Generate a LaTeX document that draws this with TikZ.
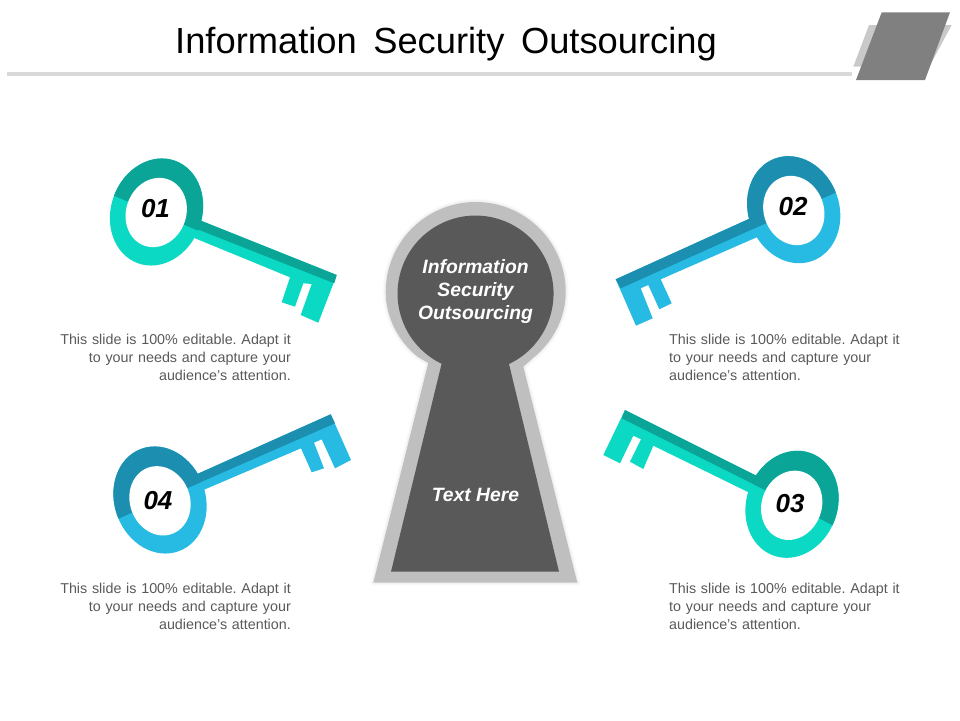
\documentclass[tikz,border=0pt]{standalone}
\usepackage{fontspec}
\setmainfont{Liberation Sans}
\definecolor{tealL}{HTML}{0BD9C4}
\definecolor{tealD}{HTML}{0AA596}
\definecolor{blueL}{HTML}{27BAE2}
\definecolor{blueD}{HTML}{1C8FB0}
\definecolor{holeD}{HTML}{595959}
\definecolor{holeL}{HTML}{BFBFBF}
\definecolor{bodyT}{HTML}{595959}
\tikzset{
  bodytext/.style={font=\fontsize{14.3}{17.8}\selectfont\frenchspacing,text=bodyT,text width=236pt,inner sep=0pt},
  numtext/.style={font=\fontsize{26}{26}\selectfont\bfseries\itshape,text=black,inner sep=0pt},
  holetext/.style={font=\fontsize{19.3}{22.6}\selectfont\bfseries\itshape,text=white,inner sep=0pt,align=center},
  halo/.style={draw=black,line join=round,opacity=0.018},
}
\begin{document}
\begin{tikzpicture}[x=1pt,y=1pt,yscale=-1]
\useasboundingbox (0,0) rectangle (960,720);
% header
\fill[fill=holeL!60!white] (7,72.3) rectangle (852,76);
\fill[fill=holeL!85!white] (869,25) -- (951.7,25) -- (929.3,66.7) -- (853.3,66.7) -- cycle;
\fill[fill=black!50] (881.7,12.3) -- (950,12.3) -- (925,80) -- (856,80) -- cycle;
\node[font=\fontsize{36.3}{36}\selectfont,text=black,inner sep=0pt] (title) at (446,44) {Information\hspace{6.5pt} Security\hspace{6.5pt} Outsourcing};
% keyhole
\def\holeouter{(428.3,363) -- (373.3,582.7) -- (577.3,582.7) -- (523.3,366.7) -- (533,358)
  .. controls (553,342) and (565.7,318) .. (565.7,292)
  arc[start angle=0,end angle=-180,radius=90]
  .. controls (385.7,318) and (399,342) .. (418,357) -- cycle}
\foreach \w in {2,4,6}{\draw[halo,line width=\w pt] \holeouter;}
\fill[holeL] \holeouter;
\fill[holeD] (441.7,363.3) -- (391,571.7) -- (559,571.7) -- (509,364)
  arc[start angle=64.6,end angle=-244.6,radius=78] -- cycle;
\node[holetext] (holetop) at (475.5,291.5) {Information\\Security\\Outsourcing};
\node[holetext] (holebot) at (475.5,495) {Text Here};
% key 01
\fill[tealL,rotate around={20:(156.5,212)}] (156.5,212) ellipse[x radius=45.5,y radius=54.5];
\fill[tealL] (190,216.3) -- (336.7,275) -- (318.3,322.7) -- (300.7,315) -- (311.7,284) -- (303.3,283.3) -- (295,306.7) -- (281.7,302.3) -- (290,277.3) -- (195,238.3) -- (175,230) -- cycle;
\begin{scope}
\clip (100,190) -- (210,235.5) -- (210,150) -- (100,150) -- cycle;
\fill[tealD,rotate around={20:(156.5,212)}] (156.5,212) ellipse[x radius=45.5,y radius=54.5];
\end{scope}
\fill[tealD] (190,216.3) -- (336.7,275) -- (334.3,283.3) -- (186.7,225) -- (175,220.3) -- cycle;
\fill[white,rotate around={20:(156.2,212.5)}] (156.2,212.5) ellipse[x radius=30,y radius=35.2];
\node[numtext] (n1) at (155.5,208.5) {01};
% key 02
\fill[blueL,rotate around={-20:(793.7,209.7)}] (793.7,209.7) ellipse[x radius=45.5,y radius=54.5];
\fill[blueL] (760,213.9) -- (615.7,279.3) -- (636,325.7) -- (652.7,318.3) -- (640.7,288.3) -- (648.3,285) -- (659.3,309.3) -- (671.7,303.3) -- (660.7,279.3) -- (756.7,237.3) -- (775,229) -- cycle;
\begin{scope}
\clip (850,186.4) -- (740,234.5) -- (740,140) -- (850,140) -- cycle;
\fill[blueD,rotate around={-20:(793.7,209.7)}] (793.7,209.7) ellipse[x radius=45.5,y radius=54.5];
\end{scope}
\fill[blueD] (760,213.9) -- (615.7,279.3) -- (620.7,288.3) -- (765.7,223.3) -- (778,218) -- cycle;
\fill[white,rotate around={-20:(793.8,210.5)}] (793.8,210.5) ellipse[x radius=30,y radius=35.2];
\node[numtext] (n2) at (793,207) {02};
% key 03
\fill[tealL,rotate around={20:(792,504.3)}] (792,504.3) ellipse[x radius=45.5,y radius=54.5];
\fill[tealL] (767,481) -- (625,410) -- (603.3,455) -- (620,463.3) -- (633.3,435.7) -- (641,439.3) -- (630,461.7) -- (643.3,469) -- (653.3,445.7) -- (747.3,491.7) -- (770,503) -- cycle;
\begin{scope}
\clip (735,474.3) -- (850,534.5) -- (850,440) -- (735,440) -- cycle;
\fill[tealD,rotate around={20:(792,504.3)}] (792,504.3) ellipse[x radius=45.5,y radius=54.5];
\end{scope}
\fill[tealD] (767,481) -- (625,410) -- (621.7,418.3) -- (765,490) -- (778,497) -- cycle;
\fill[white,rotate around={20:(791.7,505.3)}] (791.7,505.3) ellipse[x radius=30,y radius=35.2];
\node[numtext] (n3) at (790,503.5) {03};
% key 04
\fill[blueL,rotate around={-20:(160,500)}] (160,500) ellipse[x radius=45.5,y radius=54.5];
\fill[blueL] (185,479.5) -- (330.7,414.3) -- (351,460) -- (335,468.3) -- (321.7,439.3) -- (314,442.7) -- (324,468.3) -- (311.7,472.3) -- (301,448.3) -- (205,489.3) -- (180,500) -- cycle;
\begin{scope}
\clip (100,526.9) -- (215,475.7) -- (215,440) -- (100,440) -- cycle;
\fill[blueD,rotate around={-20:(160,500)}] (160,500) ellipse[x radius=45.5,y radius=54.5];
\end{scope}
\fill[blueD] (185,479.5) -- (330.7,414.3) -- (335,423.3) -- (189,487.3) -- (175,493.5) -- cycle;
\fill[white,rotate around={-20:(160,500.8)}] (160,500.8) ellipse[x radius=30,y radius=35.2];
\node[numtext] (n4) at (158,500.5) {04};
% body text
\node[bodytext,align=right,anchor=east] (t1) at (291,357.5) {This slide is 100\% editable. Adapt it\\to your needs and capture your\\audience's attention.};
\node[bodytext,align=left,anchor=west] (t2) at (669,357.5) {This slide is 100\% editable. Adapt it\\to your needs and capture your\\audience's attention.};
\node[bodytext,align=left,anchor=west] (t3) at (669,606.5) {This slide is 100\% editable. Adapt it\\to your needs and capture your\\audience's attention.};
\node[bodytext,align=right,anchor=east] (t4) at (291,606.5) {This slide is 100\% editable. Adapt it\\to your needs and capture your\\audience's attention.};
\end{tikzpicture}
\end{document}
